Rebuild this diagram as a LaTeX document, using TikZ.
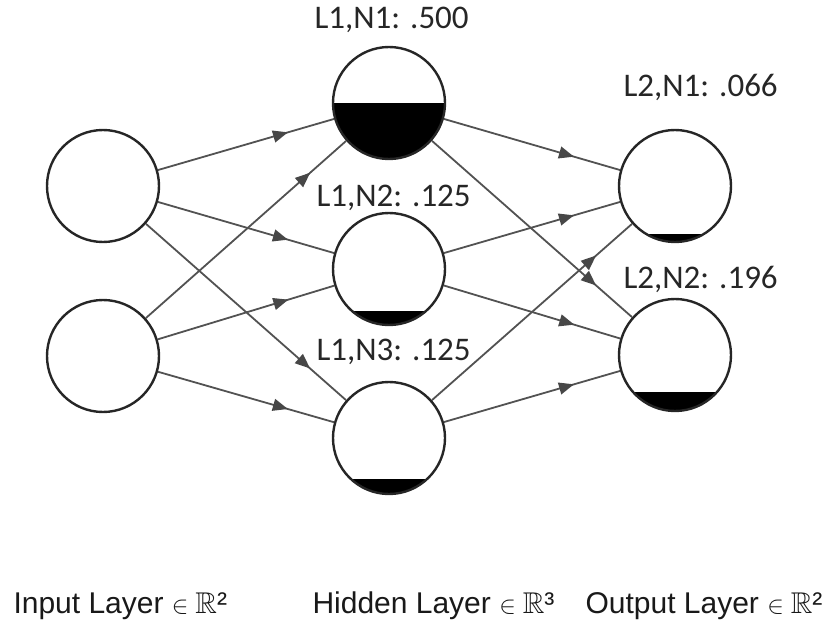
\documentclass[tikz,border=0pt]{standalone}
\usepackage{amssymb}
\usepackage{fontspec}
\setmainfont{Liberation Sans}
\newfontfamily\valuefont{Carlito}
\usetikzlibrary{arrows.meta,decorations.markings}

\begin{document}
\begin{tikzpicture}[x=1pt,y=-1pt,
        neuron/.style={circle,draw=black!85,fill=white,line width=2.4pt,minimum size=112pt,inner sep=0pt},
        level/.style={path picture={\fill[black] (path picture bounding box.south west) rectangle ([yshift=#1]path picture bounding box.south east);}},
        edge/.style={draw=black!68,line width=1.8pt,postaction={decorate},
            decoration={markings,mark=at position -48pt with {\arrow[black!72]{Triangle[length=15pt,width=12pt]}}}},
        value/.style={anchor=base west,font=\valuefont\fontsize{33}{38}\selectfont,text=black!85},
        layer/.style={anchor=base west,font=\fontsize{30}{34}\selectfont,text=black!90}]
        \useasboundingbox (0,0) rectangle (836,623);
        \node[neuron] (Input_1) at (103,186) {};
        \node[neuron] (Input_2) at (103,356) {};
        \node[neuron,level=56pt] (Hidden_1) at (389,103) {};
        \node[neuron,level=14pt] (Hidden_2) at (389,269) {};
        \node[neuron,level=15pt] (Hidden_3) at (389,438) {};
        \node[neuron,level=8pt] (Output_1) at (675,186) {};
        \node[neuron,level=19pt] (Output_2) at (675,355) {};
        \node[value] (Value_H1) at (311,29) {L1,N1: .500};
        \node[value] (Value_H2) at (313,207) {L1,N2: .125};
        \node[value] (Value_H3) at (313,360) {L1,N3: .125};
        \node[value] (Value_O1) at (620,97) {L2,N1: .066};
        \node[value] (Value_O2) at (620,288) {L2,N2: .196};
        \node[layer] (Input_layer) at (10,613) {Input Layer $\in\mathbb{R}$²};
        \node[layer] (Hidden_layer) at (309,613) {Hidden Layer $\in\mathbb{R}$³};
        \node[layer] (Output_layer) at (582,613) {Output Layer $\in\mathbb{R}$²};
        \draw[edge] (Input_1) -- (Hidden_1);
        \draw[edge] (Input_1) -- (Hidden_2);
        \draw[edge] (Input_1) -- (Hidden_3);
        \draw[edge] (Input_2) -- (Hidden_1);
        \draw[edge] (Input_2) -- (Hidden_2);
        \draw[edge] (Input_2) -- (Hidden_3);
        \draw[edge] (Hidden_1) -- (Output_1);
        \draw[edge] (Hidden_1) -- (Output_2);
        \draw[edge] (Hidden_2) -- (Output_1);
        \draw[edge] (Hidden_2) -- (Output_2);
        \draw[edge] (Hidden_3) -- (Output_1);
        \draw[edge] (Hidden_3) -- (Output_2);
    \end{tikzpicture}
\end{document}
